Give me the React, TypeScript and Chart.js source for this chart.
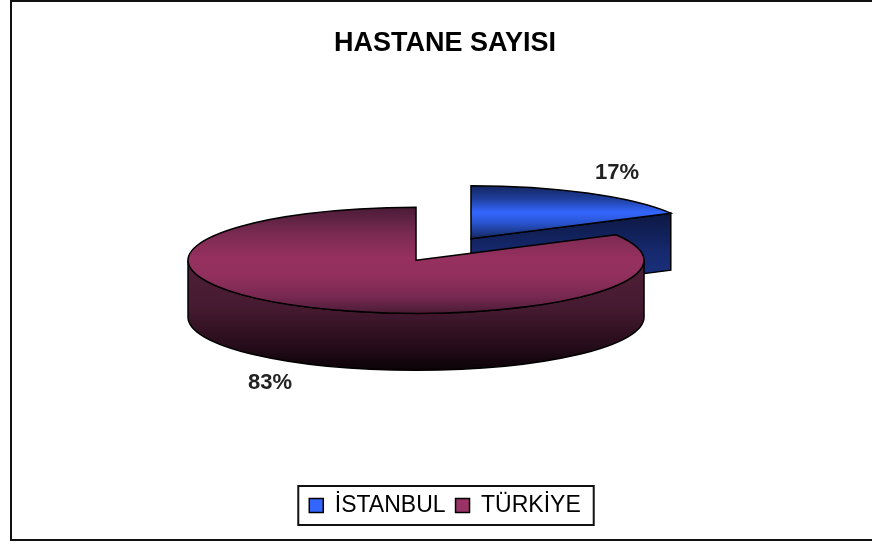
import React, { useEffect, useRef } from "react";
import { Chart, registerables } from "chart.js";

Chart.register(...registerables);

const chartTitle = "HASTANE SAYISI";
const categories = ["İSTANBUL", "TÜRKİYE"];
const shares = [17, 83];
const swatchColors = ["#3366ff", "#993366"];

// Vertical shading of each slice, as [stop, colour] pairs over the slice's height.
const topShades: [number, string][][] = [
  [[0, "#14265e"], [0.25, "#1f3f9e"], [0.5, "#3366ff"], [0.7, "#2a55d0"], [1, "#14265e"]],
  [[0, "#4a1c36"], [0.25, "#7a2a52"], [0.48, "#96305f"], [0.65, "#92305d"], [0.85, "#762850"], [1, "#4a1c36"]],
];
const wallShades: [number, string][][] = [
  [[0, "#050a22"], [0.6, "#16296e"], [1, "#1c3688"]],
  [[0, "#2a0c1e"], [0.35, "#4f1f38"], [0.62, "#451a30"], [0.85, "#260c1a"], [1, "#0a0206"]],
];
// Height span of each slice's top face in units of the radius, relative to its apex.
const topSpans: [number, number][] = [[-1, 0], [-1, 1]];

const FONT = "'Liberation Sans', Arial, sans-serif";
const RADIUS = 228;
const TILT = 0.2325; // vertical squash of the disc
const DEPTH = 57; // extrusion height of the disc
const EXPLODE = 54; // distance each slice is pulled out along its mid angle
const PIE_CENTER_Y = 249.5;
const PIE_SHIFT_X = -1.5;
const LABEL_PAD = { x: 30, y: 20 };

function fillFromStops(g: CanvasGradient, stops: [number, string][]) {
  stops.forEach(([s, c]) => g.addColorStop(s, c));
  return g;
}

const pie3d = {
  id: "pie3d",
  beforeDraw(chart: any) {
    // frame of the chart: open on the right-hand side
    const { ctx } = chart;
    ctx.save();
    ctx.fillStyle = "#fff";
    ctx.fillRect(0, 0, chart.width, chart.height);
    ctx.strokeStyle = "#111";
    ctx.lineWidth = 2;
    ctx.beginPath();
    ctx.moveTo(chart.width, 1);
    ctx.lineTo(11, 1);
    ctx.lineTo(11, 540);
    ctx.lineTo(chart.width, 540);
    ctx.stroke();
    ctx.restore();
  },
  beforeDatasetDraw(chart: any, args: any) {
    const { ctx } = chart;
    args.meta.data.forEach((arc: any, i: number) => {
      const { x, y, startAngle: a0, endAngle: a1, outerRadius: R } = arc;
      const mid = (a0 + a1) / 2;
      const sx = x + PIE_SHIFT_X + EXPLODE * Math.cos(mid);
      const sy = PIE_CENTER_Y + TILT * EXPLODE * Math.sin(mid);
      const px = (a: number) => sx + R * Math.cos(a);
      const py = (a: number) => sy + TILT * R * Math.sin(a);

      // visible part of the rim (canvas angles 0..PI are the near half)
      const walls: (() => void)[] = [];
      const from = Math.max(a0, 0);
      const to = Math.min(a1, Math.PI);
      if (to > from) {
        walls.push(() => {
          ctx.moveTo(px(from), py(from));
          ctx.ellipse(sx, sy, R, TILT * R, 0, from, to);
          ctx.lineTo(px(to), py(to) + DEPTH);
          ctx.ellipse(sx, sy + DEPTH, R, TILT * R, 0, to, from, true);
          ctx.closePath();
        });
      }
      // cut faces turned towards the viewer
      const cut = (a: number) => () => {
        ctx.moveTo(sx, sy);
        ctx.lineTo(px(a), py(a));
        ctx.lineTo(px(a), py(a) + DEPTH);
        ctx.lineTo(sx, sy + DEPTH);
        ctx.closePath();
      };
      if (Math.cos(a1) > 1e-6) walls.push(cut(a1));
      if (-Math.cos(a0) > 1e-6) walls.push(cut(a0));

      const wallTop = Math.min(sy, py(a1), py(a0));
      const wallBottom = Math.max(sy + DEPTH, to > from ? sy + TILT * R + DEPTH : 0, py(a1) + DEPTH);
      const wallFill = fillFromStops(ctx.createLinearGradient(0, wallTop, 0, wallBottom), wallShades[i]);
      walls.forEach((trace) => {
        ctx.save();
        ctx.beginPath();
        trace();
        ctx.fillStyle = wallFill;
        ctx.fill();
        ctx.strokeStyle = "#000";
        ctx.lineWidth = 1.5;
        ctx.stroke();
        ctx.restore();
      });

      // the library's own arc, laid flat and pulled out
      ctx.save();
      ctx.translate(sx - x, sy);
      ctx.scale(1, TILT);
      ctx.translate(0, -y);
      arc.draw(ctx);
      ctx.restore();

      ctx.save();
      ctx.beginPath();
      ctx.moveTo(sx, sy);
      ctx.lineTo(px(a0), py(a0));
      ctx.ellipse(sx, sy, R, TILT * R, 0, a0, a1);
      ctx.closePath();
      ctx.strokeStyle = "#000";
      ctx.lineWidth = 1.5;
      ctx.stroke();
      ctx.restore();

      // percentage label just outside the rim
      const near = Math.sin(mid) > 0;
      const lx = px(mid) + Math.sign(Math.cos(mid)) * LABEL_PAD.x;
      const ly = py(mid) + (near ? DEPTH + LABEL_PAD.y : -LABEL_PAD.y);
      ctx.save();
      ctx.font = `bold 22px ${FONT}`;
      ctx.fillStyle = "#222";
      ctx.textAlign = "center";
      ctx.textBaseline = "middle";
      ctx.fillText(`${shares[i]}%`, lx, ly);
      ctx.restore();
    });
    return false;
  },
  afterDraw(chart: any) {
    // box round the legend
    const boxes = chart.legend?.legendHitBoxes;
    if (!boxes?.length) return;
    const { ctx } = chart;
    const left = boxes[0].left - 11;
    const last = boxes[boxes.length - 1];
    const right = last.left + last.width + 13;
    const top = boxes[0].top - 8;
    const bottom = boxes[0].top + boxes[0].height + 8;
    ctx.save();
    ctx.strokeStyle = "#111";
    ctx.lineWidth = 2;
    ctx.strokeRect(left, top, right - left, bottom - top);
    ctx.restore();
  },
};

export default function App() {
  const ref = useRef<HTMLCanvasElement>(null);
  useEffect(() => {
    const chart = new Chart(ref.current!, {
      type: "pie",
      data: {
        labels: categories,
        datasets: [
          {
            data: shares,
            radius: RADIUS,
            borderWidth: 0,
            backgroundColor: (c: any) => {
              const area = c.chart.chartArea;
              if (!area) return swatchColors[c.dataIndex];
              const cy = (area.top + area.bottom) / 2;
              const [lo, hi] = topSpans[c.dataIndex];
              const g = c.chart.ctx.createLinearGradient(0, cy + lo * RADIUS, 0, cy + hi * RADIUS);
              return fillFromStops(g, topShades[c.dataIndex]);
            },
          } as any,
        ],
      },
      options: {
        responsive: false,
        animation: false,
        events: [],
        layout: { padding: { left: 18, bottom: 17 } },
        plugins: {
          tooltip: { enabled: false },
          title: {
            display: true,
            text: chartTitle,
            color: "#000",
            font: { family: FONT, size: 27, weight: "bold" },
            padding: { top: 27, bottom: 10 },
          },
          legend: {
            position: "bottom",
            labels: {
              color: "#111",
              font: { family: FONT, size: 23 },
              boxWidth: 14,
              boxHeight: 14,
              padding: 10,
              generateLabels: () =>
                categories.map((text, i) => ({
                  text,
                  fillStyle: swatchColors[i],
                  strokeStyle: "#000",
                  lineWidth: 1.5,
                  hidden: false,
                  index: i,
                })),
            },
          },
        },
      },
      plugins: [pie3d],
    } as any);
    return () => chart.destroy();
  }, []);
  return (
    <div style={{ position: "absolute", left: 0, top: 0, width: 872, height: 544 }}>
      <canvas ref={ref} width={872} height={544} style={{ display: "block" }} />
    </div>
  );
}
